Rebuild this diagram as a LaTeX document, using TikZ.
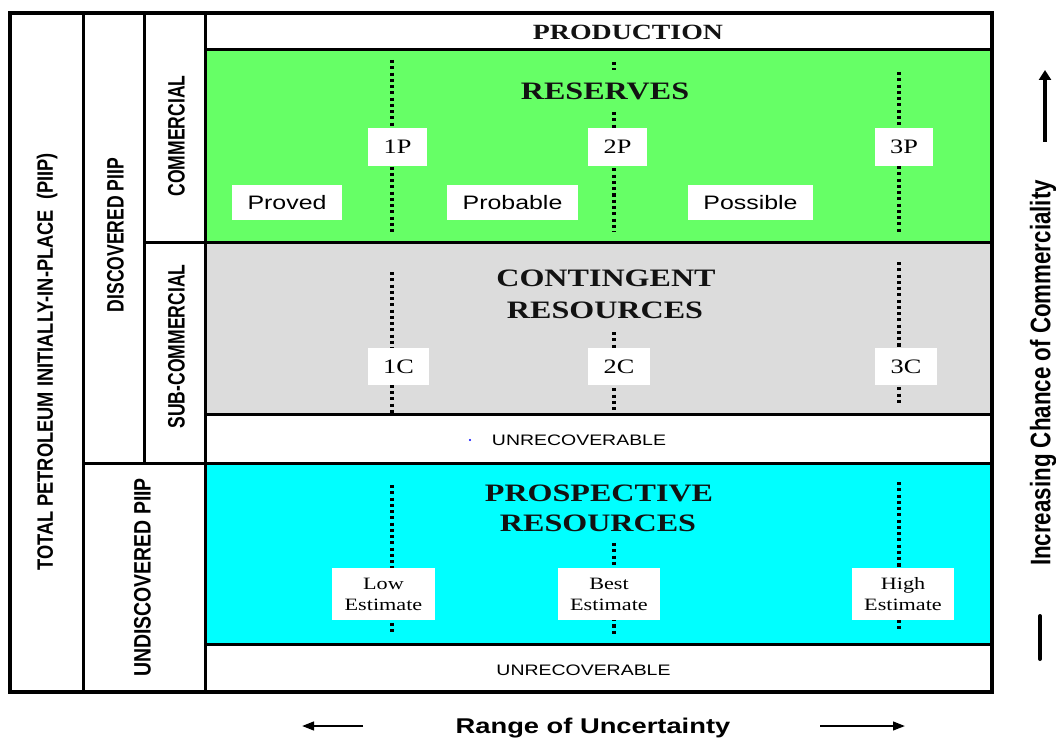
\documentclass[tikz,border=0pt]{standalone}
\usepackage{fontspec}
\setmainfont{Liberation Serif}
\newfontfamily\serifw[FakeStretch=1.28]{Liberation Serif}
\newfontfamily\sansw[FakeStretch=1.28]{Liberation Sans}
\newfontfamily\sansna[FakeStretch=0.74]{Liberation Sans}
\newfontfamily\sansnb[FakeStretch=0.82]{Liberation Sans}
\newfontfamily\sansnc[FakeStretch=0.79]{Liberation Sans}
\usetikzlibrary{arrows.meta}
\definecolor{resgreen}{HTML}{66FF66}
\definecolor{congray}{HTML}{DCDCDC}
\definecolor{procyan}{HTML}{00FFFF}
\begin{document}
\begin{tikzpicture}[x=0.75pt,y=-0.75pt,
  outerline/.style={line width=3pt},
  innerline/.style={line width=2.25pt},
  dotline/.style={line width=2.6pt, dash pattern=on 2.3pt off 2.4pt},
  lab/.style={fill=white, inner sep=0pt, align=center},
  lbox/.style 2 args={minimum width=#1*0.75pt, minimum height=#2*0.75pt},
  title/.style={anchor=base, inner sep=0pt, text=black!93, font=\serifw\bfseries\fontsize{18.8}{22}\selectfont},
  plab/.style={font=\serifw\fontsize{15.4}{17}\selectfont},
  slab/.style={font=\sansw\fontsize{14.6}{16}\selectfont},
  elab/.style={font=\serifw\fontsize{13}{15.75}\selectfont},
  unrec/.style={anchor=base, inner sep=0pt, font=\sansw\fontsize{11.4}{13}\selectfont},
  sidetxt/.style={rotate=90, inner sep=0pt, font=\sansna\bfseries\fontsize{17.8}{20}\selectfont},
]
\useasboundingbox (0,0) rectangle (1056,738);
\fill[white] (0,0) rectangle (1056,738);

% colour fills
\fill[resgreen] (205,50) rectangle (992,242);
\fill[congray] (205,242) rectangle (992,414);
\fill[procyan] (205,463) rectangle (992,644);

% dotted lines
\draw[dotline] (392,60) -- (392,232);
\draw[dotline] (614,62) -- (614,70);
\draw[dotline] (614,112) -- (614,232);
\draw[dotline] (899,72) -- (899,232);
\draw[dotline] (392,272) -- (392,413);
\draw[dotline] (614,332) -- (614,412);
\draw[dotline] (899,262) -- (899,405);
\draw[dotline] (392,485) -- (392,635);
\draw[dotline] (614,543) -- (614,635);
\draw[dotline] (899,482) -- (899,632);

% titles
\node[title, font=\serifw\bfseries\fontsize{16.3}{18}\selectfont] (prod) at (628,39.3) {PRODUCTION};
\node[title] (res) at (605,100) {RESERVES};
\node[title] (cont1) at (606,286.7) {CONTINGENT};
\node[title] (cont2) at (605,318) {RESOURCES};
\node[title] (pros1) at (599,501.7) {PROSPECTIVE};
\node[title] (pros2) at (598,531.7) {RESOURCES};

% reserves labels
\node[lab, lbox={59}{38}, plab] (p1) at (397.5,147) {1P};
\node[lab, lbox={59}{38}, plab] (p2) at (617.5,147) {2P};
\node[lab, lbox={58}{38}, plab] (p3) at (904,147) {3P};
\node[lab, lbox={110}{35}, slab] (proved) at (287,202.5) {Proved};
\node[lab, lbox={131}{35}, slab] (probable) at (512.5,202.5) {Probable};
\node[lab, lbox={125}{35}, slab] (possible) at (750.5,202.5) {Possible};

% contingent labels
\node[lab, lbox={61}{37}, plab] (c1) at (398.5,366.5) {1C};
\node[lab, lbox={62}{37}, plab] (c2) at (619,366.5) {2C};
\node[lab, lbox={62}{37}, plab] (c3) at (906,366.5) {3C};

% prospective labels
\node[lab, lbox={103}{52}, elab] (low) at (383.5,594) {Low\\Estimate};
\node[lab, lbox={102}{52}, elab] (best) at (609,594) {Best\\Estimate};
\node[lab, lbox={102}{52}, elab] (high) at (903,594) {High\\Estimate};

% unrecoverable
\fill[blue] (470,440) circle (0.8pt);
\node[unrec] (unrec1) at (579,445) {UNRECOVERABLE};
\node[unrec] (unrec2) at (583.5,675) {UNRECOVERABLE};

% grid lines
\draw[innerline] (83,13) -- (83,692);
\draw[innerline] (144,13) -- (144,463);
\draw[innerline] (205,13) -- (205,692);
\draw[innerline] (205,50) -- (992,50);
\draw[innerline] (144,242) -- (992,242);
\draw[innerline] (205,414) -- (992,414);
\draw[innerline] (83,463) -- (992,463);
\draw[innerline] (205,644) -- (992,644);
\draw[outerline] (10,13) rectangle (992,692);

% side labels
\node[sidetxt, font=\sansnb\bfseries\fontsize{16.7}{19}\selectfont] (total) at (47,362) {TOTAL PETROLEUM INITIALLY-IN-PLACE\ \ (PIIP)};
\node[sidetxt] (disc) at (115.5,235) {DISCOVERED PIIP};
\node[sidetxt] (comm) at (176.5,136) {COMMERCIAL};
\node[sidetxt] (subcomm) at (176.5,346.5) {SUB-COMMERCIAL};
\node[sidetxt, font=\sansnb\bfseries\fontsize{17.8}{20}\selectfont] (undisc) at (142.5,577.5) {UNDISCOVERED PIIP};

% axis labels and arrows
\node[anchor=base, inner sep=0pt, font=\sansw\bfseries\fontsize{16}{18}\selectfont] (range) at (593,733) {Range of Uncertainty};
\coordinate (la1) at (363,726);
\coordinate (la2) at (302,726);
\coordinate (ra1) at (820,726);
\coordinate (ra2) at (905,726);
\draw[line width=1.6pt, -{Triangle[length=9pt,width=6.5pt]}] (la1) -- (la2);
\draw[line width=1.6pt, -{Triangle[length=9pt,width=6.5pt]}] (ra1) -- (ra2);

\node[rotate=90, inner sep=0pt, font=\sansnc\bfseries\fontsize{21.2}{24}\selectfont] (incr) at (1043,373) {Increasing Chance of Commerciality};
\coordinate (ua1) at (1045,142);
\coordinate (ua2) at (1045,70);
\draw[line width=2.8pt, -{Triangle[length=7.5pt,width=9pt]}] (ua1) -- (ua2);
\coordinate (ub1) at (1040,616);
\coordinate (ub2) at (1040,659);
\draw[line width=3pt, line cap=round] (ub1) -- (ub2);
\end{tikzpicture}
\end{document}
